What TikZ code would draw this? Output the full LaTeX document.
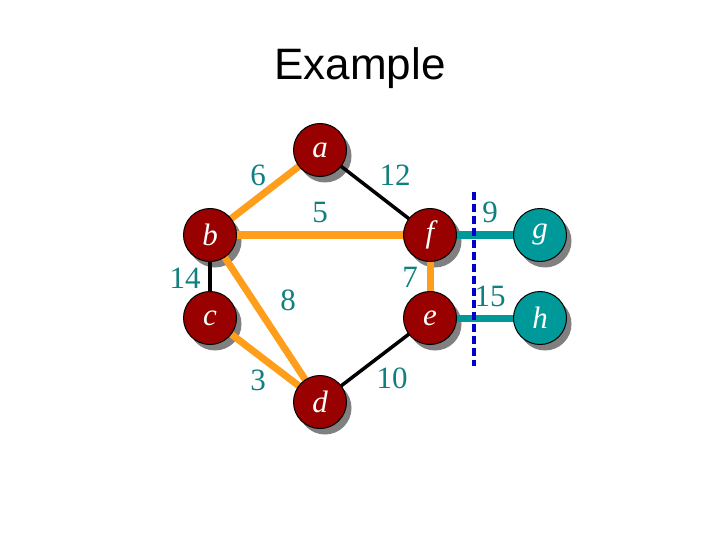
\documentclass[tikz,border=0pt]{standalone}
\usepackage{fontspec}
\setmainfont{Liberation Serif}
\newfontfamily\titlefont{Liberation Sans}
\definecolor{nodered}{HTML}{990000}
\definecolor{nodeteal}{HTML}{009999}
\definecolor{edgeorange}{HTML}{FF9E1A}
\definecolor{labteal}{HTML}{107F7F}
\definecolor{cutblue}{HTML}{0000CC}
\begin{document}
\begin{tikzpicture}[x=1pt,y=-1pt,
  vert/.style={circle,draw=black,line width=1pt,fill=nodered,minimum size=53pt,inner sep=0pt,
    text=white,font=\fontsize{31}{31}\selectfont\itshape},
  tvert/.style={vert,fill=nodeteal},
  shade/.style={circle,fill=gray,minimum size=53pt,inner sep=0pt},
  oedge/.style={draw=edgeorange,line width=7pt},
  kedge/.style={draw=black,line width=3.5pt},
  tedge/.style={draw=nodeteal,line width=7pt},
  wlab/.style={text=labteal,font=\fontsize{31}{31}\selectfont},
]
\useasboundingbox (0,0) rectangle (720,540);
\node[font=\titlefont\fontsize{44}{44}\selectfont] (title) at (360,68) {Example};
% shadows
\foreach \px/\py in {320/150,210/235,430/235,540/235,210/318,430/318,540/318,320/402}
  \node[shade] at (\px+5,\py+6) {};
\coordinate (ca) at (320,150);
\coordinate (cb) at (210,235);
\coordinate (cf) at (430,235);
\coordinate (cg) at (540,235);
\coordinate (cc) at (210,318);
\coordinate (ce) at (430,318);
\coordinate (ch) at (540,318);
\coordinate (cd) at (320,402);
\draw[oedge] (ca) -- (cb);
\draw[kedge] (ca) -- (cf);
\draw[oedge] (cb) -- (cf);
\draw[kedge] (cb) -- (cc);
\draw[oedge] (cb) -- (cd);
\draw[oedge] (cc) -- (cd);
\draw[oedge] (cf) -- (ce);
\draw[kedge] (ce) -- (cd);
\draw[tedge] (cf) -- (cg);
\draw[tedge] (ce) -- (ch);
% nodes
\node[vert] (a) at (ca) {a};
\node[vert] (b) at (cb) {b};
\node[vert] (f) at (cf) {f};
\node[tvert] (g) at (cg) {g};
\node[vert] (c) at (cc) {c};
\node[vert] (e) at (ce) {e};
\node[tvert] (h) at (ch) {h};
\node[vert] (d) at (cd) {d};
% cut
\coordinate (cut1) at (474,192);
\coordinate (cut2) at (474,366);
\draw[cutblue,line width=3.5pt,dash pattern=on 8pt off 4pt] (cut1) -- (cut2);
% weights
\node[wlab] (w6) at (258,175) {6};
\node[wlab] (w12) at (395,175) {12};
\node[wlab] (w5) at (320,213) {5};
\node[wlab] (w14) at (185,278) {14};
\node[wlab] (w8) at (288,300) {8};
\node[wlab] (w7) at (410,277) {7};
\node[wlab] (w3) at (258,380) {3};
\node[wlab] (w10) at (392,378) {10};
\node[wlab] (w9) at (490,212) {9};
\node[wlab] (w15) at (490,296) {15};
\end{tikzpicture}
\end{document}
